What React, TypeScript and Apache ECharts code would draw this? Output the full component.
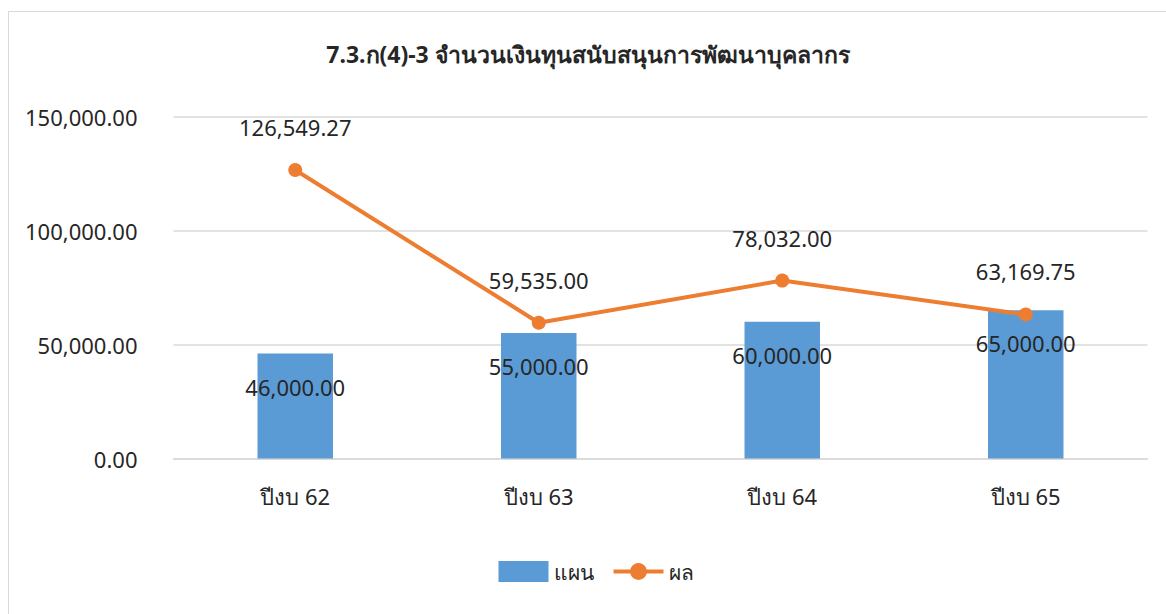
import React, { useEffect, useRef } from "react";
import * as echarts from "echarts";

const title = "7.3.ก(4)-3 จำนวนเงินทุนสนับสนุนการพัฒนาบุคลากร";
const categories = ["ปีงบ 62", "ปีงบ 63", "ปีงบ 64", "ปีงบ 65"];
const planValues = [46000, 55000, 60000, 65000];
const resultValues = [126549.27, 59535.0, 78032.0, 63169.75];
const seriesNames = ["แผน", "ผล"];

const fmt = (v: number) =>
  v.toLocaleString("en-US", { minimumFractionDigits: 2, maximumFractionDigits: 2 });

const FONT = "'Noto Sans', 'Open Sans', sans-serif";

export default function App() {
  const ref = useRef<HTMLDivElement>(null);
  useEffect(() => {
    const chart = echarts.init(ref.current!, undefined, { renderer: "svg" });
    chart.setOption({
      animation: false,
      textStyle: { fontFamily: FONT },
      title: {
        text: title,
        left: "center",
        top: 25,
        textStyle: { fontSize: 23, fontWeight: "bold", color: "#262626", fontFamily: FONT },
      },
      grid: { left: 164.5, right: 19.5, top: 104.5, bottom: 156.5 },
      legend: {
        bottom: 28,
        left: 484.5,
        itemWidth: 50,
        itemHeight: 21,
        itemGap: 18,
        textStyle: { fontSize: 21, color: "#262626", fontFamily: FONT },
        data: [
          { name: seriesNames[0], icon: "rect" },
          { name: seriesNames[1], lineStyle: { width: 4 } },
        ],
      },
      xAxis: {
        type: "category",
        data: categories,
        axisLine: { lineStyle: { color: "#d9d9d9", width: 1.5 } },
        axisTick: { show: false },
        axisLabel: { fontSize: 22, color: "#262626", margin: 26, fontFamily: FONT },
      },
      yAxis: {
        type: "value",
        min: 0,
        max: 150000,
        interval: 50000,
        axisLine: { show: false },
        axisTick: { show: false },
        splitLine: { lineStyle: { color: "#d9d9d9", width: 1.5 } },
        axisLabel: {
          fontSize: 22,
          color: "#262626",
          margin: 36,
          fontFamily: FONT,
          formatter: (v: number) => fmt(v),
        },
      },
      series: [
        {
          name: seriesNames[0],
          type: "bar",
          data: planValues,
          barWidth: "31%",
          itemStyle: { color: "#5B9BD5" },
          label: {
            show: true,
            position: "insideTop",
            distance: 22,
            fontSize: 22,
            color: "#262626",
            fontFamily: FONT,
            formatter: (p: any) => fmt(p.value),
          },
          z: 2,
        },
        {
          name: seriesNames[1],
          type: "line",
          data: resultValues,
          symbol: "circle",
          symbolSize: 14,
          lineStyle: { color: "#ED7D31", width: 4 },
          itemStyle: { color: "#ED7D31" },
          label: {
            show: true,
            position: "top",
            distance: 25,
            fontSize: 22,
            color: "#262626",
            fontFamily: FONT,
            formatter: (p: any) => fmt(p.value),
          },
          z: 3,
        },
      ],
    });
    return () => chart.dispose();
  }, []);

  return (
    <div
      style={{
        position: "absolute",
        left: 8,
        top: 11,
        width: 1170,
        height: 620,
        border: "1.5px solid #d9d9d9",
        boxSizing: "border-box",
        background: "#fff",
      }}
    >
      <div ref={ref} style={{ width: 1158, height: 603 }} />
    </div>
  );
}
